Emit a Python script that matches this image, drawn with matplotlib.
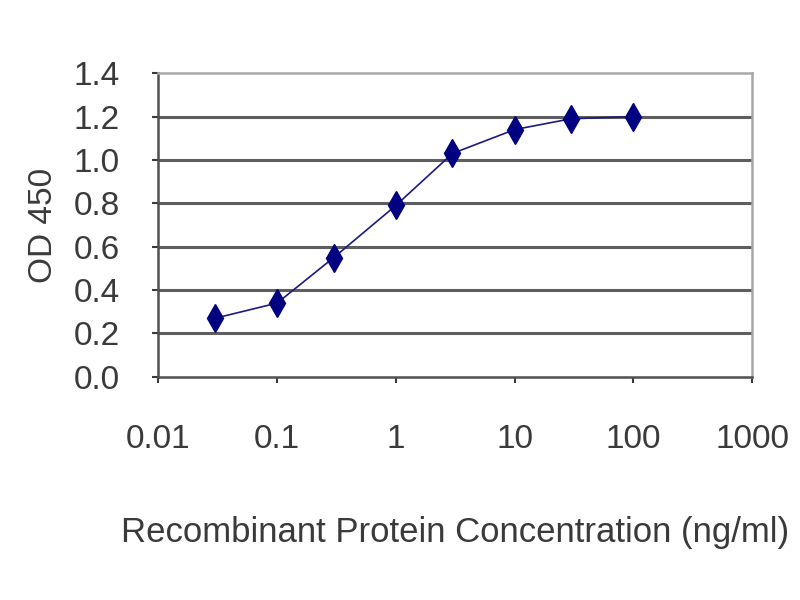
import matplotlib
matplotlib.use('Agg')
import matplotlib.pyplot as plt

# 浓度 (ng/ml) 和 OD450 读数
conc = [0.03, 0.1, 0.3, 1, 3, 10, 30, 100]
od450 = [0.27, 0.34, 0.55, 0.79, 1.03, 1.14, 1.19, 1.20]

x_ticks = [0.01, 0.1, 1, 10, 100, 1000]
x_tick_labels = ['0.01', '0.1', '1', '10', '100', '1000']
y_ticks = [0.0, 0.2, 0.4, 0.6, 0.8, 1.0, 1.2, 1.4]
y_tick_labels = ['0.0', '0.2', '0.4', '0.6', '0.8', '1.0', '1.2', '1.4']

plt.rcParams['font.family'] = ['Liberation Sans', 'DejaVu Sans']

fig = plt.figure(figsize=(8, 6), dpi=100)
ax = fig.add_axes([0.198, 0.372, 0.742, 0.506])

# 网格线
for v in y_ticks[1:-1]:
    ax.axhline(v, color='#5e5e5e', lw=2.2, zorder=1)

ax.plot(conc, od450, color='#1a1a80', lw=1.2, marker='d', markersize=14,
        markerfacecolor='#000080', markeredgecolor='#000080', zorder=3)

ax.set_xscale('log')
ax.set_xlim(0.01, 1000)
ax.set_ylim(0, 1.4)
ax.set_xticks(x_ticks)
ax.set_xticklabels(x_tick_labels)
ax.minorticks_off()
ax.set_yticks(y_ticks)
ax.set_yticklabels(y_tick_labels)

txt = '#3a3a3a'
ax.tick_params(axis='both', labelsize=24, colors=txt, length=4, width=1.5)
ax.tick_params(axis='x', pad=30)
ax.tick_params(axis='y', pad=24)
for s in ['left', 'bottom']:
    ax.spines[s].set_color('#505050')
    ax.spines[s].set_linewidth(1.8)
for s in ['top', 'right']:
    ax.spines[s].set_color('#a8a8a8')
    ax.spines[s].set_linewidth(1.8)

ax.set_xlabel('Recombinant Protein Concentration (ng/ml)', fontsize=25, color=txt, labelpad=44)
ax.set_ylabel('OD 450', fontsize=24, color=txt, labelpad=10)

plt.savefig('out.png', dpi=100)
